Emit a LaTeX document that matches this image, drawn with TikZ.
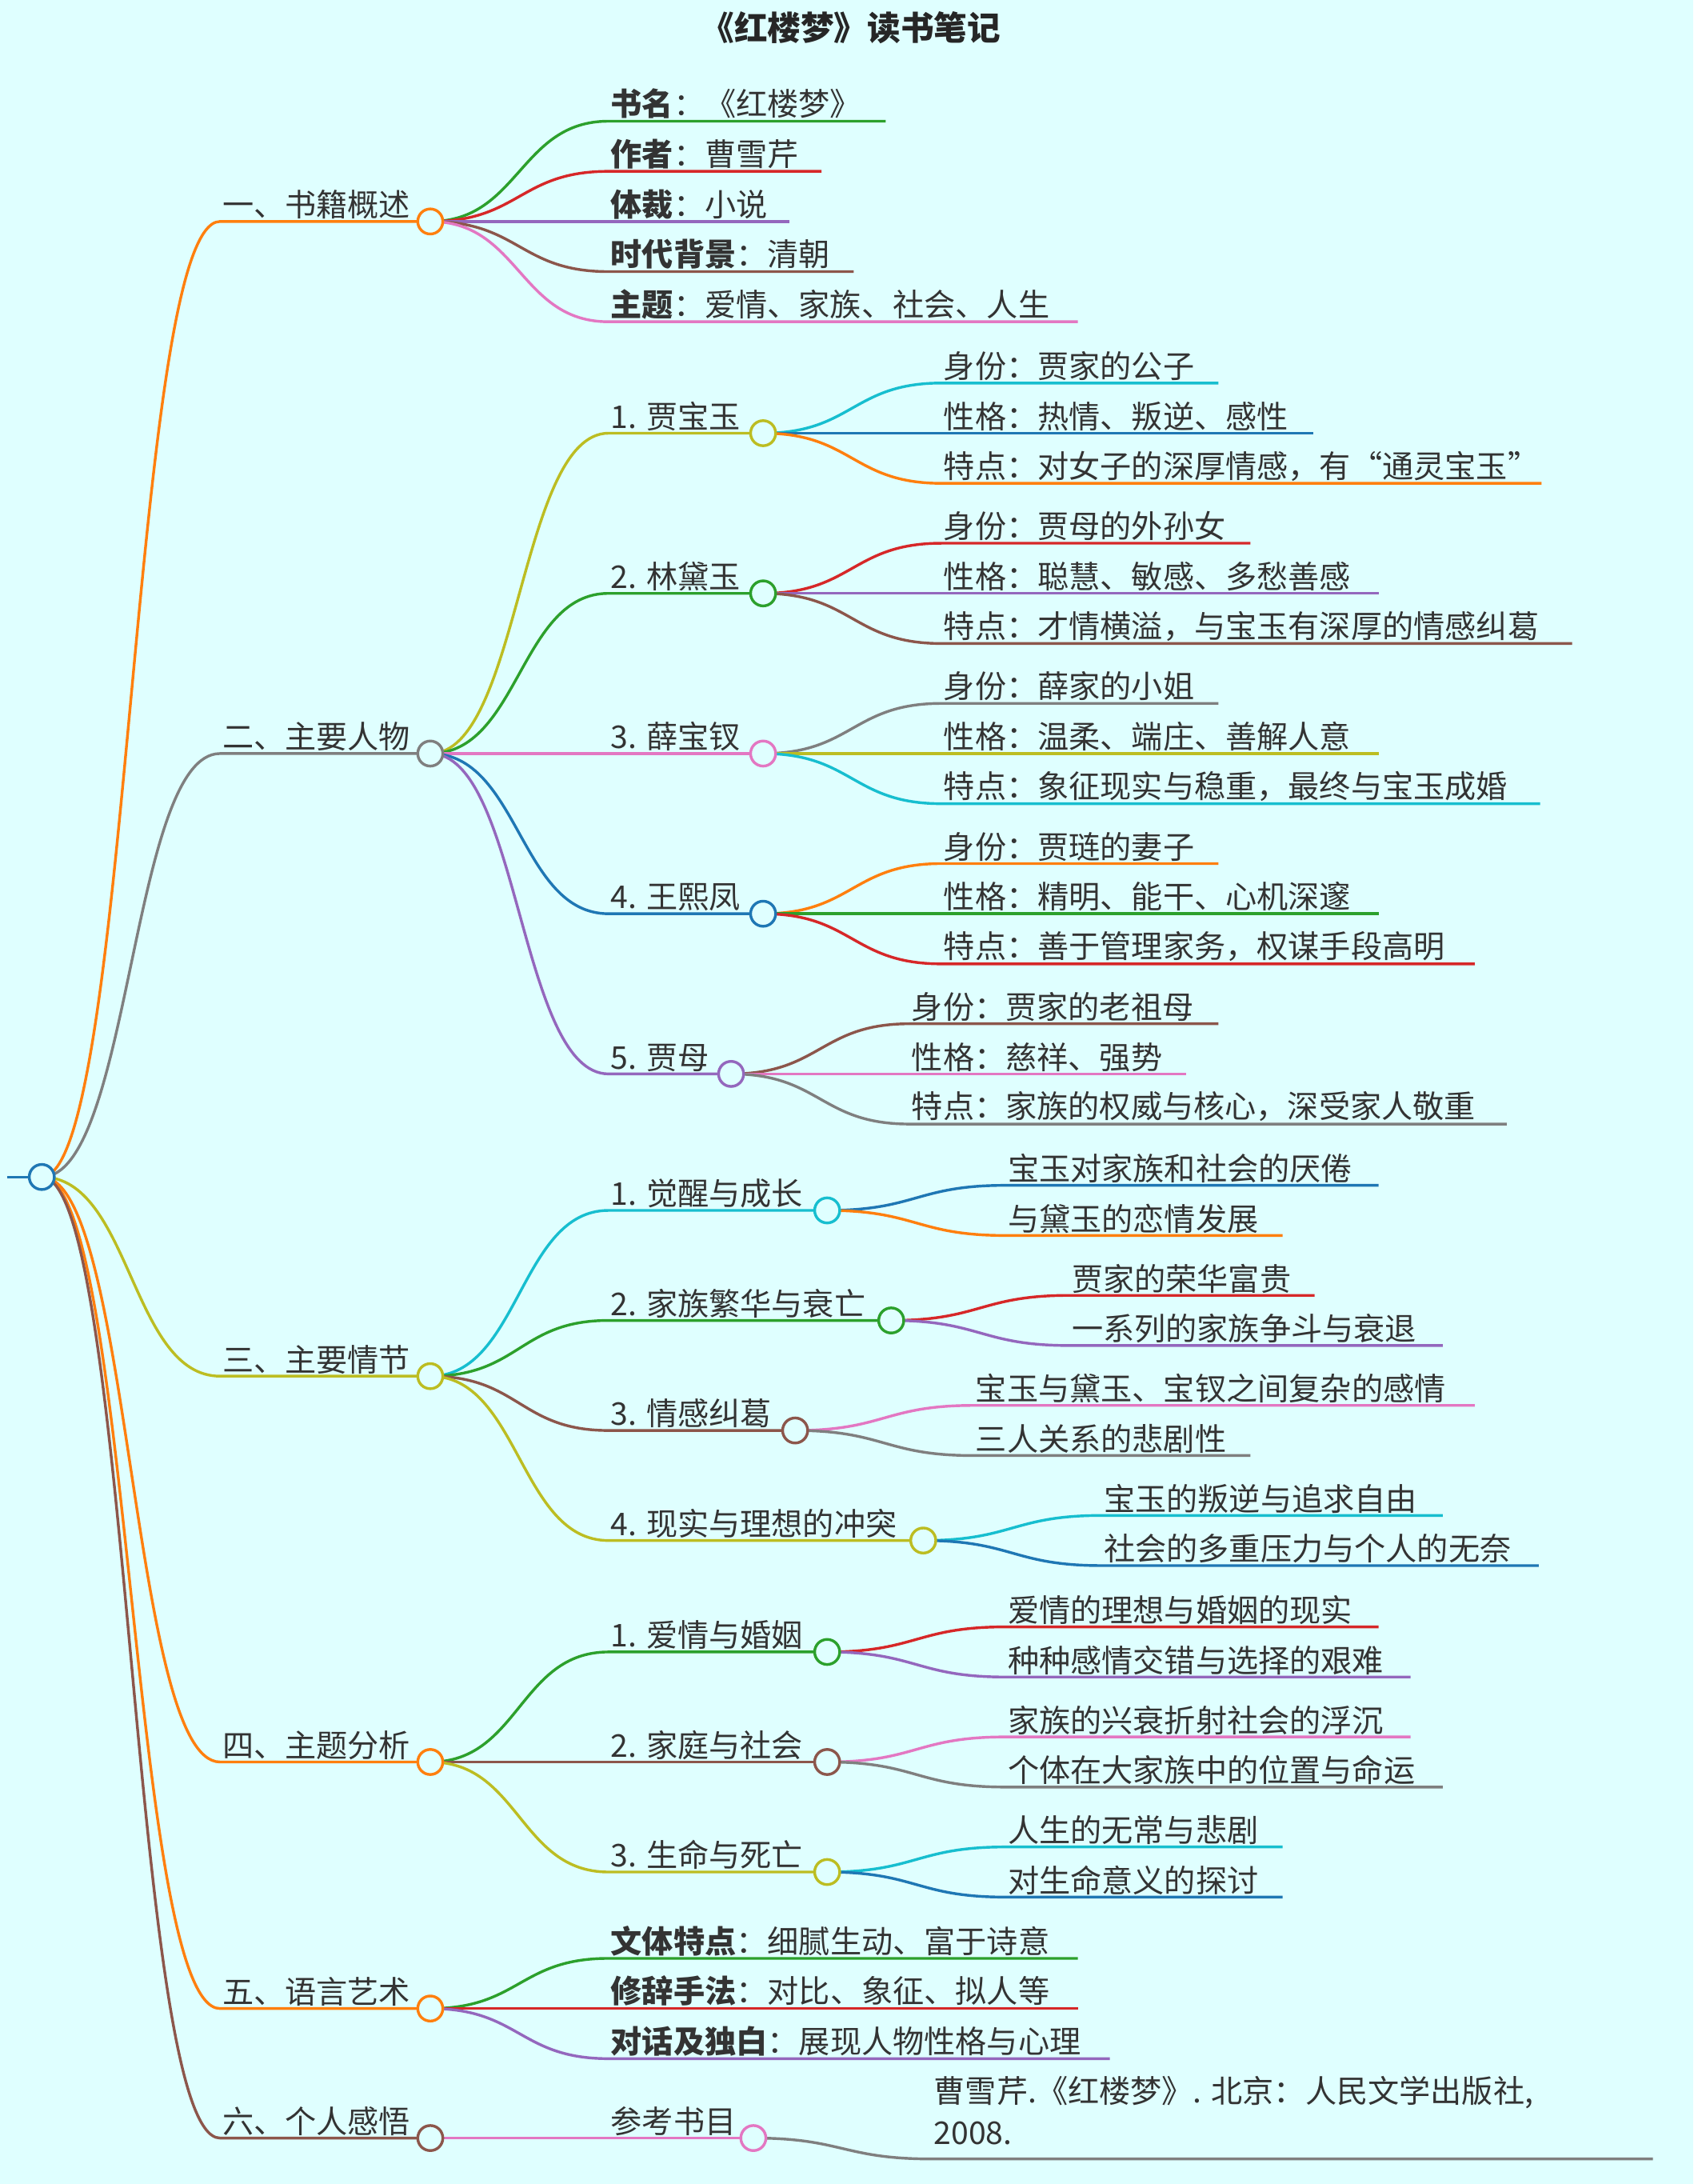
\documentclass[tikz,border=0pt]{standalone}
\usepackage{fontspec}
\setmainfont{Noto Sans CJK SC}
\usetikzlibrary{backgrounds}
\definecolor{bgc}{HTML}{DFFFFF}
\definecolor{tblue}{HTML}{1F77B4}
\definecolor{torange}{HTML}{FF7F0E}
\definecolor{tgreen}{HTML}{2CA02C}
\definecolor{tred}{HTML}{D62728}
\definecolor{tpurple}{HTML}{9467BD}
\definecolor{tbrown}{HTML}{8C564B}
\definecolor{tpink}{HTML}{E377C2}
\definecolor{tgray}{HTML}{7F7F7F}
\definecolor{tolive}{HTML}{BCBD22}
\definecolor{tcyan}{HTML}{17BECF}
\tikzset{
  twigline/.style={line width=1.4pt},
  hubdot/.style={circle, line width=1.4pt, fill=bgc, minimum size=0.45cm, inner sep=0pt},
  leaf/.style={anchor=south west, inner sep=1pt, font=\fontsize{16pt}{21pt}\selectfont, text=black!80},
}
% parent, name, x start, y, x end, colour, text
\newcommand\twig[7]{%
  \coordinate (#2s) at (#3,#4);
  \coordinate (#2e) at (#5,#4);
  \begin{scope}[on background layer]
  \draw[twigline, #6] (#1) .. controls +(64,0) and +(-64,0) .. (#2s) -- (#2e);
  \end{scope}
  \node[leaf] (#2) at (#2s) {#7};}
\begin{document}
\begin{tikzpicture}[x=0.025cm, y=-0.025cm]
\begin{scope}[on background layer]
\fill[bgc] (0,0) rectangle (1216,1568);
\end{scope}
\node[font=\fontsize{17pt}{20pt}\selectfont\bfseries, text=black!85] (title) at (611,20) {《红楼梦》读书笔记};

% hubs
\coordinate (root) at (30,845);
\coordinate (rootl) at (5,845);
\begin{scope}[on background layer]
\draw[twigline, tblue] (rootl) -- (root);
\end{scope}

% ---- level one
\twig{root}{a1}{158}{159}{309}{torange}{一、书籍概述}
\twig{root}{a2}{158}{541}{309}{tgray}{二、主要人物}
\twig{root}{a3}{158}{988}{309}{tolive}{三、主要情节}
\twig{root}{a4}{158}{1265}{309}{torange}{四、主题分析}
\twig{root}{a5}{158}{1442}{309}{torange}{五、语言艺术}
\twig{root}{a6}{158}{1535}{309}{tbrown}{六、个人感悟}

% ---- 一
\twig{a1e}{b11}{437}{87}{636}{tgreen}{\textbf{书名}：《红楼梦》}
\twig{a1e}{b12}{437}{123}{590}{tred}{\textbf{作者}：曹雪芹}
\twig{a1e}{b13}{437}{159}{567}{tpurple}{\textbf{体裁}：小说}
\twig{a1e}{b14}{437}{195}{613}{tbrown}{\textbf{时代背景}：清朝}
\twig{a1e}{b15}{437}{231}{774}{tpink}{\textbf{主题}：爱情、家族、社会、人生}

% ---- 二
\twig{a2e}{b21}{437}{311}{548}{tolive}{1. 贾宝玉}
\twig{a2e}{b22}{437}{426}{548}{tgreen}{2. 林黛玉}
\twig{a2e}{b23}{437}{541}{548}{tpink}{3. 薛宝钗}
\twig{a2e}{b24}{437}{656}{548}{tblue}{4. 王熙凤}
\twig{a2e}{b25}{437}{771}{525}{tpurple}{5. 贾母}
\twig{b21e}{c211}{676}{275}{875}{tcyan}{身份：贾家的公子}
\twig{b21e}{c212}{676}{311}{943}{tblue}{性格：热情、叛逆、感性}
\twig{b21e}{c213}{676}{347}{1107}{torange}{特点：对女子的深厚情感，有“通灵宝玉”}
\twig{b22e}{c221}{676}{390}{898}{tred}{身份：贾母的外孙女}
\twig{b22e}{c222}{676}{426}{990}{tpurple}{性格：聪慧、敏感、多愁善感}
\twig{b22e}{c223}{676}{462}{1129}{tbrown}{特点：才情横溢，与宝玉有深厚的情感纠葛}
\twig{b23e}{c231}{676}{505}{875}{tgray}{身份：薛家的小姐}
\twig{b23e}{c232}{676}{541}{990}{tolive}{性格：温柔、端庄、善解人意}
\twig{b23e}{c233}{676}{577}{1106}{tcyan}{特点：象征现实与稳重，最终与宝玉成婚}
\twig{b24e}{c241}{676}{620}{875}{torange}{身份：贾琏的妻子}
\twig{b24e}{c242}{676}{656}{990}{tgreen}{性格：精明、能干、心机深邃}
\twig{b24e}{c243}{676}{692}{1059}{tred}{特点：善于管理家务，权谋手段高明}
\twig{b25e}{c251}{653}{735}{875}{tbrown}{身份：贾家的老祖母}
\twig{b25e}{c252}{653}{771}{852}{tpink}{性格：慈祥、强势}
\twig{b25e}{c253}{653}{807}{1082}{tgray}{特点：家族的权威与核心，深受家人敬重}

% ---- 三
\twig{a3e}{b31}{437}{869}{594}{tcyan}{1. 觉醒与成长}
\twig{a3e}{b32}{437}{948}{640}{tgreen}{2. 家族繁华与衰亡}
\twig{a3e}{b33}{437}{1027}{571}{tbrown}{3. 情感纠葛}
\twig{a3e}{b34}{437}{1106}{663}{tolive}{4. 现实与理想的冲突}
\twig{b31e}{c311}{722}{851}{990}{tblue}{宝玉对家族和社会的厌倦}
\twig{b31e}{c312}{722}{887}{921}{torange}{与黛玉的恋情发展}
\twig{b32e}{c321}{768}{930}{944}{tred}{贾家的荣华富贵}
\twig{b32e}{c322}{768}{966}{1036}{tpurple}{一系列的家族争斗与衰退}
\twig{b33e}{c331}{699}{1009}{1059}{tpink}{宝玉与黛玉、宝钗之间复杂的感情}
\twig{b33e}{c332}{699}{1045}{898}{tgray}{三人关系的悲剧性}
\twig{b34e}{c341}{791}{1088}{1036}{tcyan}{宝玉的叛逆与追求自由}
\twig{b34e}{c342}{791}{1124}{1105}{tblue}{社会的多重压力与个人的无奈}

% ---- 四
\twig{a4e}{b41}{437}{1186}{594}{tgreen}{1. 爱情与婚姻}
\twig{a4e}{b42}{437}{1265}{594}{tbrown}{2. 家庭与社会}
\twig{a4e}{b43}{437}{1344}{594}{tolive}{3. 生命与死亡}
\twig{b41e}{c411}{722}{1168}{990}{tred}{爱情的理想与婚姻的现实}
\twig{b41e}{c412}{722}{1204}{1013}{tpurple}{种种感情交错与选择的艰难}
\twig{b42e}{c421}{722}{1247}{1013}{tpink}{家族的兴衰折射社会的浮沉}
\twig{b42e}{c422}{722}{1283}{1036}{tgray}{个体在大家族中的位置与命运}
\twig{b43e}{c431}{722}{1326}{921}{tcyan}{人生的无常与悲剧}
\twig{b43e}{c432}{722}{1362}{921}{tblue}{对生命意义的探讨}

% ---- 五
\twig{a5e}{b51}{437}{1406}{774}{tgreen}{\textbf{文体特点}：细腻生动、富于诗意}
\twig{a5e}{b52}{437}{1442}{774}{tred}{\textbf{修辞手法}：对比、象征、拟人等}
\twig{a5e}{b53}{437}{1478}{797}{tpurple}{\textbf{对话及独白}：展现人物性格与心理}

% ---- 六
\twig{a6e}{b61}{437}{1535}{541}{tpink}{参考书目}
\twig{b61e}{c611}{669}{1550}{1187}{tgray}{\begin{tabular}{@{}l@{}}曹雪芹.《红楼梦》. 北京：人民文学出版社,\\2008.\end{tabular}}

% circles
\foreach \n/\c in {root/tblue, a1e/torange, a2e/tgray, a3e/tolive, a4e/torange, a5e/torange, a6e/tbrown,
  b21e/tolive, b22e/tgreen, b23e/tpink, b24e/tblue, b25e/tpurple,
  b31e/tcyan, b32e/tgreen, b33e/tbrown, b34e/tolive,
  b41e/tgreen, b42e/tbrown, b43e/tolive, b61e/tpink}
  \node[hubdot, draw=\c] (\n dot) at (\n) {};
\end{tikzpicture}
\end{document}
